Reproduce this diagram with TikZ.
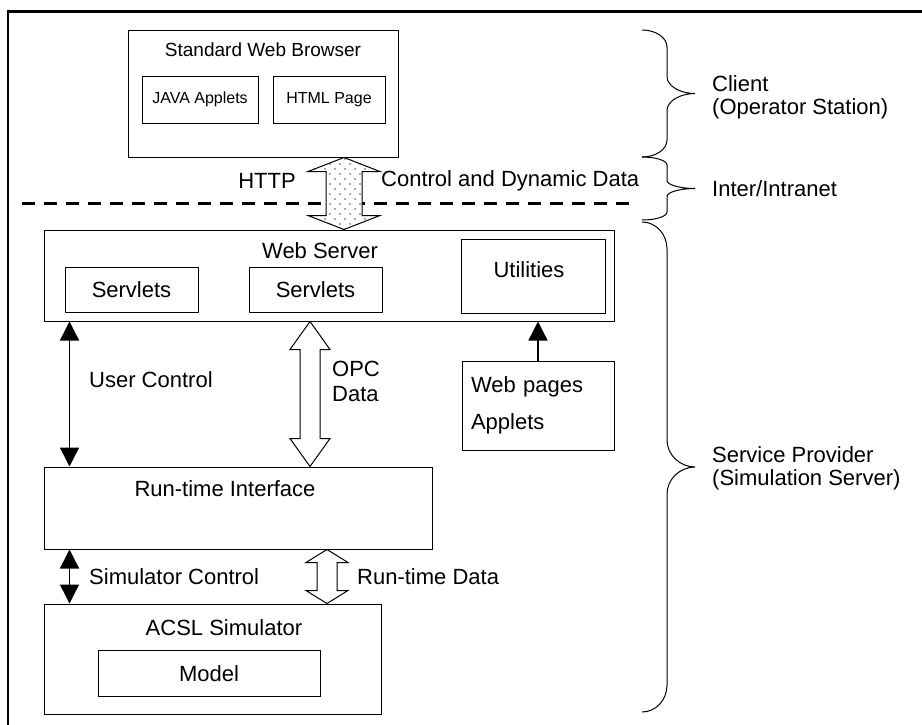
\documentclass[tikz,border=0pt]{standalone}
\usepackage{fontspec}
\setmainfont{Liberation Sans}
\usetikzlibrary{arrows.meta,positioning,calc,patterns.meta}

\tikzdeclarepattern{
  name=sparsedots,
  type=uncolored,
  bounding box={(-1pt,-1pt) and (6pt,6pt)},
  tile size={(10pt,10pt)},
  code={\fill (0pt,0pt) circle (0.9pt); \fill (5pt,5pt) circle (0.9pt);}
}

\begin{document}
\begin{tikzpicture}[>={Triangle[length=19pt,width=19pt]},x=1pt,y=-1pt,
  font=\fontsize{22pt}{23pt}\selectfont,
  box/.style={draw,line width=1pt,inner sep=0pt},
  small/.style={font=\fontsize{16pt}{18pt}\selectfont},
  link/.style={line width=1.4pt},
  hollow/.style n args={3}{line width=1pt,to path={let \p1=(\tikztostart),\p2=(\tikztotarget) in
    (\x1,\y1) -- (\x1-#2,\y1-#3) -- (\x1-#1,\y1-#3) -- (\x1-#1,\y2+#3) -- (\x1-#2,\y2+#3) -- (\x1,\y2)
    -- (\x1+#2,\y2+#3) -- (\x1+#1,\y2+#3) -- (\x1+#1,\y1-#3) -- (\x1+#2,\y1-#3) -- cycle}},
  curly/.style={line width=1pt,to path={let \p1=(\tikztostart),\p2=(\tikztotarget),
    \p3=($(\tikztostart)!.5!(\tikztotarget)$) in
    .. controls (\x1+14pt,\y1) and (\x1+25pt,\y1-0.45*#1) .. (\x1+25pt,\y1-#1)
    -- (\x1+25pt,\y3+#1)
    .. controls (\x1+25pt,\y3+0.45*#1) and (\x1+38pt,\y3) .. (\x1+53pt,\y3)
    .. controls (\x1+38pt,\y3) and (\x1+25pt,\y3-0.45*#1) .. (\x1+25pt,\y3-#1)
    -- (\x1+25pt,\y2+#1)
    .. controls (\x1+25pt,\y2+0.45*#1) and (\x1+14pt,\y2) .. (\x2,\y2)}}]
  \useasboundingbox (0,0) rectangle (922,724);
  \draw[line width=2.8pt] (8,740) -- (8,11.4) -- (940,11.4);

  % client side
  \node[box,minimum width=270pt,minimum height=127pt] (browser) at (263,93.5) {};
  \node[font=\fontsize{19pt}{21pt}\selectfont] (browsertitle) at (263,50) {Standard Web Browser};
  \node[box,small,minimum width=116pt,minimum height=47pt] (java) at (200,99.5) {JAVA Applets};
  \node[box,small,minimum width=112pt,minimum height=47pt] (html) [right=14pt of java] {HTML Page};

  % server side
  \node[box,minimum width=570pt,minimum height=91pt] (webserver) at (329,275.5) {};
  \node (webtitle) at (320,251) {Web Server};
  \node[box,minimum width=133pt,minimum height=45pt] (servlets1) at (131.5,290) {Servlets};
  \node[box,minimum width=133pt,minimum height=45pt] (servlets2) [right=50pt of servlets1] {Servlets};
  \node[box,minimum width=144pt,minimum height=74pt] (utilities) at (533,276) {};
  \node (utiltitle) at (529,270) {Utilities};
  \node[box,align=left,text width=134pt,inner sep=9pt,minimum height=89pt] (webpages) at (538,405.5)
    {Web pages\\[14pt]Applets};
  \node[box,minimum width=388pt,minimum height=82pt] (runtime) at (238,508) {};
  \node (runtitle) at (225,489) {Run-time Interface};
  \node[box,minimum width=337pt,minimum height=110pt] (acsl) at (212.5,659) {};
  \node (acsltitle) at (224,628) {ACSL Simulator};
  \node[box,minimum width=222pt,minimum height=46pt] (model) at (209,673.5) {Model};

  % network
  \draw[line width=3.5pt,dash pattern=on 13pt off 9pt] (22,203.5) -- (636,203.5);
  \draw[hollow={18pt}{36pt}{14pt},preaction={fill=white},pattern=sparsedots,pattern color=black!65]
    ([xshift=81pt]browser.south) to ([xshift=81pt]browser.south |- webserver.north);
  \node (http) at (267,181) {HTTP};
  \node[anchor=west,inner sep=0pt] (dyndata) at (381,181) {Control and Dynamic Data};

  % links
  \draw[link,<->] ([xshift=26pt]webserver.south west) -- ([xshift=26pt]webserver.south west |- runtime.north);
  \node[anchor=west,inner sep=0pt] (userctl) at (89,380) {User Control};
  \draw[hollow={10pt}{20pt}{28pt}] ([xshift=-19pt]webserver.south) to ([xshift=-19pt]webserver.south |- runtime.north);
  \node[anchor=west,align=left,inner sep=0pt] (opc) at (332,381) {OPC\\[2pt]Data};
  \draw[link,->] (webpages.north) -- (webpages.north |- webserver.south);
  \draw[link,<->] ([xshift=26pt]runtime.south west) -- ([xshift=26pt]runtime.south west |- acsl.north);
  \node[anchor=west,inner sep=0pt] (simctl) at (89,577) {Simulator Control};
  \draw[hollow={10pt}{21pt}{13pt}] ([xshift=89pt]runtime.south) to ([xshift=89pt]runtime.south |- acsl.north);
  \node[anchor=west,inner sep=0pt] (rtdata) at (357,577) {Run-time Data};

  % braces
  \draw[curly=17pt] (642,30) to (642,157);
  \node[anchor=west,align=left,inner sep=0pt] (client) at (712,97) {Client\\(Operator Station)};
  \draw[curly=8pt] (642,157) to (642,220);
  \node[anchor=west,inner sep=0pt] (net) at (712,189) {Inter/Intranet};
  \draw[curly=27pt] (642,222) to (642,712);
  \node[anchor=west,align=left,inner sep=0pt] (provider) at (712,468) {Service Provider\\(Simulation Server)};
\end{tikzpicture}
\end{document}
